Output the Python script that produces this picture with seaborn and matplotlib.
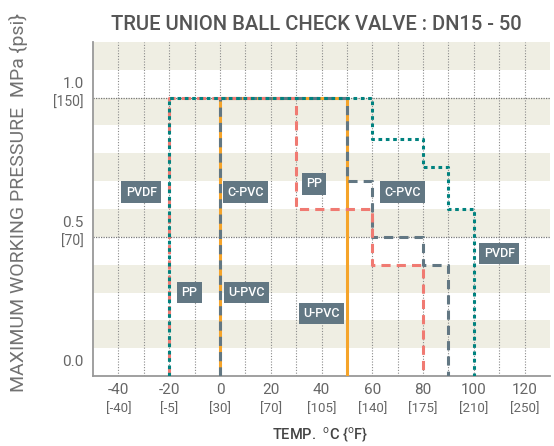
import numpy as np
import pandas as pd
import matplotlib
matplotlib.use("Agg")
import matplotlib.pyplot as plt
import matplotlib.transforms as mtrans
import seaborn as sns

# step curves, temperature degC vs pressure MPa
uPVC_T = [0, 0, 50, 50]
uPVC_P = [0.0, 1.0, 1.0, 0.0]
cPVC_T = [0, 0, 50, 50, 60, 60, 80, 80, 90, 90]
cPVC_P = [0.0, 1.0, 1.0, 0.7, 0.7, 0.5, 0.5, 0.4, 0.4, 0.0]
pp_T = [-20, -20, 30, 30, 60, 60, 80, 80]
pp_P = [0.0, 1.0, 1.0, 0.6, 0.6, 0.4, 0.4, 0.0]
pvdf_T = [-20, -20, 60, 60, 80, 80, 90, 90, 100, 100]
pvdf_P = [0.0, 1.0, 1.0, 0.85, 0.85, 0.75, 0.75, 0.6, 0.6, 0.0]

xticks_c = [-40, -20, 0, 20, 40, 60, 80, 100, 120]
xticks_f = ["[-40]", "[-5]", "[30]", "[70]", "[105]", "[140]", "[175]", "[210]", "[250]"]
yticks_mpa = [0.0, 0.5, 1.0]
ylab_mpa = ["0.0", "0.5", "1.0"]
ylab_psi = ["", "[70]", "[150]"]

# material labels (x, y, text)
tags = [(-31, 0.66, "PVDF"), (10, 0.66, "C-PVC"), (37, 0.69, "PP"), (72, 0.66, "C-PVC"),
        (110, 0.44, "PVDF"), (-12, 0.30, "PP"), (10.5, 0.30, "U-PVC"), (40, 0.225, "U-PVC")]

sns.set_style("white")
plt.rcParams["font.family"] = ["Roboto", "DejaVu Sans"]
plt.rcParams["mathtext.fontset"] = "custom"
plt.rcParams["mathtext.rm"] = "Roboto"

ORANGE = "#F5A42A"
SLATE = "#627783"
SALMON = "#F07A72"
TEAL = "#00827F"
GRAY = "#666666"

fig = plt.figure(figsize=(5.54, 4.46), dpi=100)
ax = fig.add_axes([93 / 554, 1 - 376 / 446, 457 / 554, 334 / 446])
ax.set_xlim(-50, 130)
ax.set_ylim(0, 1.2)

for lo in np.arange(0.1, 1.2, 0.2):
    ax.axhspan(lo, lo + 0.1, color="#EFEEE3", lw=0, zorder=0)
for xv in range(-40, 130, 10):
    ax.axvline(xv, color="#8a8a8a", lw=0.8, ls=(0, (1, 1.5)), zorder=1)
for yv in [0.5, 1.0]:
    ax.axhline(yv, color="#777777", lw=0.9, ls=(0, (1, 1)), zorder=1)

def draw(tx, py, color, dashes, lw=2.2):
    df = pd.DataFrame({"T": tx, "P": py})
    sns.lineplot(data=df, x="T", y="P", sort=False, estimator=None, ax=ax,
                 color=color, lw=lw, zorder=3)
    ln = ax.lines[-1]
    if dashes is not None:
        ln.set_linestyle((0, dashes))
    ln.set_solid_capstyle("butt")
    ln.set_dash_capstyle("butt")

draw(uPVC_T, uPVC_P, ORANGE, None)
draw(cPVC_T, cPVC_P, SLATE, (3, 2))
draw(pp_T, pp_P, SALMON, (3, 2))
draw(pvdf_T, pvdf_P, TEAL, (1.2, 1.2))

for x, y, s in tags:
    ax.text(x, y, s, ha="center", va="center", color="white", fontsize=9,
            fontweight="medium", zorder=5,
            bbox=dict(boxstyle="square,pad=0.35", fc=SLATE, ec="none"))

ax.set_xlabel("")
ax.set_ylabel("")
ax.set_xticks(xticks_c)
ax.set_xticklabels([str(v) for v in xticks_c], fontsize=11, color=GRAY)
ax.tick_params(axis="x", length=0, pad=5)
ax.set_yticks([])
bx = mtrans.blended_transform_factory(ax.transData, ax.transAxes)
for xv, s in zip(xticks_c, xticks_f):
    ax.text(xv, -0.097, s, transform=bx, ha="center", va="center", fontsize=9.5, color=GRAY)
by = mtrans.blended_transform_factory(ax.transAxes, ax.transData)
for yv, a, b in zip(yticks_mpa, ylab_mpa, ylab_psi):
    ax.text(-0.02, yv + 0.05, a, transform=by, ha="right", va="center", fontsize=11, color=GRAY)
    if b:
        ax.text(-0.02, yv - 0.017, b, transform=by, ha="right", va="center", fontsize=10, color=GRAY)

for side in ["top", "right"]:
    ax.spines[side].set_visible(False)
for side in ["left", "bottom"]:
    ax.spines[side].set_color("#999999")
    ax.spines[side].set_linewidth(1.3)

fig.text(316 / 554, 1 - 25 / 446, "TRUE UNION BALL CHECK VALVE : DN15 - 50", ha="center",
         va="center", fontsize=14.5, fontweight="medium", color="#555555")
fig.text(320 / 554, 1 - 435 / 446, r"TEMP.  $^{\mathrm{o}}$C {$^{\mathrm{o}}$F}", ha="center",
         va="center", fontsize=10.5, fontweight="medium", color="#444444")
fig.text(18 / 554, 1 - 203 / 446, "MAXIMUM WORKING PRESSURE  MPa {psi}", ha="center",
         va="center", rotation=90, fontsize=14, fontweight="normal", color="#727272")

fig.savefig("out.png", dpi=100)
